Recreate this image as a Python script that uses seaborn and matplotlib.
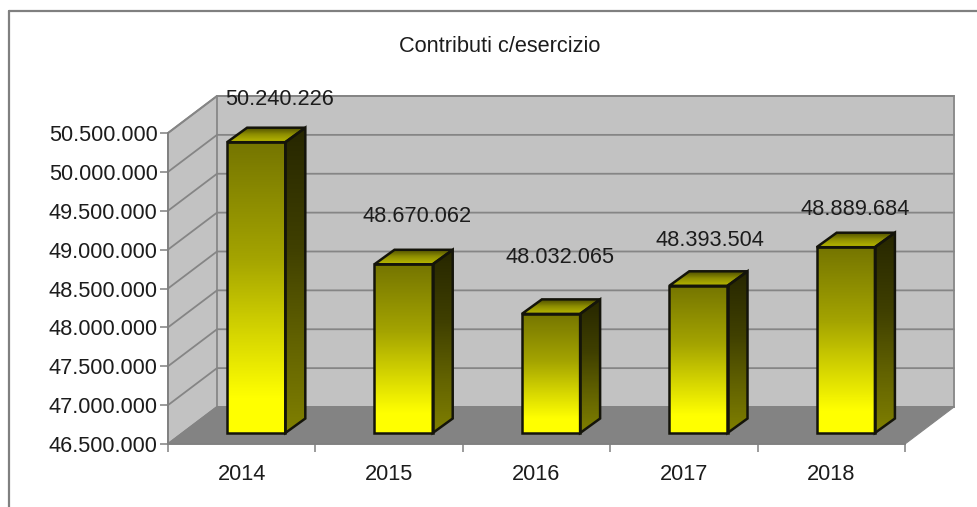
import numpy as np
import seaborn as sns
import matplotlib.pyplot as plt
from matplotlib.colors import LinearSegmentedColormap
from matplotlib.patches import Polygon

years = ['2014', '2015', '2016', '2017', '2018']
values = [50240226, 48670062, 48032065, 48393504, 48889684]
y_ticks = [46500000, 47000000, 47500000, 48000000, 48500000, 49000000, 49500000, 50000000, 50500000]

# where each value label sits relative to the back top corner of its bar, in px
label_dx = [-26, -36, -40, -38, -40]
label_dy = [28, 33, 42, 31, 23]

W, H = 977, 507
left, right, top, bottom = 168, 905, 133, 444
ymin, ymax = y_ticks[0], y_ticks[-1]
font_size = 15.7

sns.set_style('white')
plt.rcParams['font.family'] = ['Liberation Sans', 'DejaVu Sans']

fig = plt.figure(figsize=(W / 100, H / 100), dpi=100, facecolor='white')
ax = fig.add_axes([left / W, 1 - bottom / H, (right - left) / W, (bottom - top) / H])
ax.patch.set_alpha(0)

sns.barplot(x=years, y=values, width=0.395, color='#ffff00', ax=ax, zorder=3)
ax.set_xlim(-0.5, 4.5)
ax.set_ylim(ymin, ymax)

# px to data units
ux = 5 / (right - left)
uy = (ymax - ymin) / (bottom - top)
depth_x, depth_y = 49 * ux, 37 * uy
bar_dx, bar_dy = 14.5 * ux, 11 * uy
side_dx, side_dy = 20 * ux, 14.5 * uy


def fmt(v):
    return f'{v:,}'.replace(',', '.')


def gradient(verts, colors, z=4):
    xs = [p[0] for p in verts]
    ys = [p[1] for p in verts]
    cmap = LinearSegmentedColormap.from_list('g', colors, N=512)
    g = np.linspace(0, 1, 400).reshape(-1, 1)
    im = ax.imshow(g, cmap=cmap, aspect='auto', origin='lower', vmin=0, vmax=1,
                   extent=[min(xs), max(xs), min(ys), max(ys)], zorder=z,
                   interpolation='bilinear')
    poly = Polygon(verts, closed=True, fc='none', ec='#14140a', lw=1.8, zorder=z + 1,
                   clip_on=False, joinstyle='miter')
    ax.add_patch(poly)
    im.set_clip_box(fig.bbox)
    im.set_clip_path(poly)


# walls and floor
x0, x1 = -0.5, 4.5
wall_left = [(x0, ymin), (x0 + depth_x, ymin + depth_y), (x0 + depth_x, ymax + depth_y), (x0, ymax)]
wall_back = [(x0 + depth_x, ymin + depth_y), (x1 + depth_x, ymin + depth_y),
             (x1 + depth_x, ymax + depth_y), (x0 + depth_x, ymax + depth_y)]
floor = [(x0, ymin), (x1, ymin), (x1 + depth_x, ymin + depth_y), (x0 + depth_x, ymin + depth_y)]
ax.add_patch(Polygon(wall_left, fc='#c2c2c2', ec='#8c8c8c', lw=1.4, clip_on=False, zorder=1))
ax.add_patch(Polygon(wall_back, fc='#c2c2c2', ec='#8c8c8c', lw=1.4, clip_on=False, zorder=1))
for t in y_ticks:
    ax.plot([x0, x0 + depth_x, x1 + depth_x], [t, t + depth_y, t + depth_y], color='#858585',
            lw=1.3, clip_on=False, zorder=1.5)
ax.add_patch(Polygon(floor, fc='#838383', ec='#838383', lw=0.8, clip_on=False, zorder=2))

# bars: seaborn sets the x slots, faces are rebuilt on top with the depth offset
front_cols = [(0, '#ffff00'), (0.12, '#ffff00'), (0.35, '#d4d400'), (0.6, '#a4a400'), (1, '#757500')]
side_cols = [(0, '#808000'), (0.3, '#626200'), (0.6, '#404000'), (1, '#262600')]
top_cols = ['#b8b800', '#8f8f00', '#4a4a00']
for i, p in enumerate(ax.patches[:len(values)]):
    xa = p.get_x() + bar_dx
    xb = xa + p.get_width()
    ya = ymin + bar_dy
    yb = values[i] + bar_dy
    p.set_visible(False)
    gradient([(xa, ya), (xb, ya), (xb, yb), (xa, yb)], front_cols)
    gradient([(xb, ya), (xb + side_dx, ya + side_dy), (xb + side_dx, yb + side_dy), (xb, yb)], side_cols)
    gradient([(xa, yb), (xb, yb), (xb + side_dx, yb + side_dy), (xa + side_dx, yb + side_dy)], top_cols)
    ax.text(xb + side_dx + label_dx[i] * ux, yb + side_dy + label_dy[i] * uy, fmt(values[i]),
            ha='center', va='center', fontsize=font_size, color='#1c1c1c', zorder=8)

ax.set_xlim(-0.5, 4.5)
ax.set_ylim(ymin, ymax)

for s in ['top', 'right']:
    ax.spines[s].set_visible(False)
for s in ['left', 'bottom']:
    ax.spines[s].set_color('#808080')
    ax.spines[s].set_linewidth(1.3)
    ax.spines[s].set_zorder(2.5)

ax.set_yticks(y_ticks)
ax.set_yticklabels([fmt(t) for t in y_ticks])
ax.set_xticks(np.arange(-0.5, 5, 1), minor=False)
ax.set_xticklabels([])
ax.tick_params(axis='both', which='major', length=6, width=1.1, color='#808080',
               left=True, bottom=True, labelsize=font_size, labelcolor='#1c1c1c', pad=1.5)
for i, yr in enumerate(years):
    ax.text(i, ymin - 30 * uy, yr, ha='center', va='center', fontsize=font_size, color='#1c1c1c')

fig.text(500 / W, 1 - 46 / H, 'Contributi c/esercizio', ha='center', va='center',
         fontsize=font_size, color='#1c1c1c')

# outer frame, only top and left show in the picture
fig.add_artist(plt.Line2D([9 / W, 9 / W], [0, 1 - 11 / H], color='#808080', lw=1.6))
fig.add_artist(plt.Line2D([9 / W, 1], [1 - 11 / H, 1 - 11 / H], color='#808080', lw=1.6))

fig.savefig('out.png', dpi=100)
